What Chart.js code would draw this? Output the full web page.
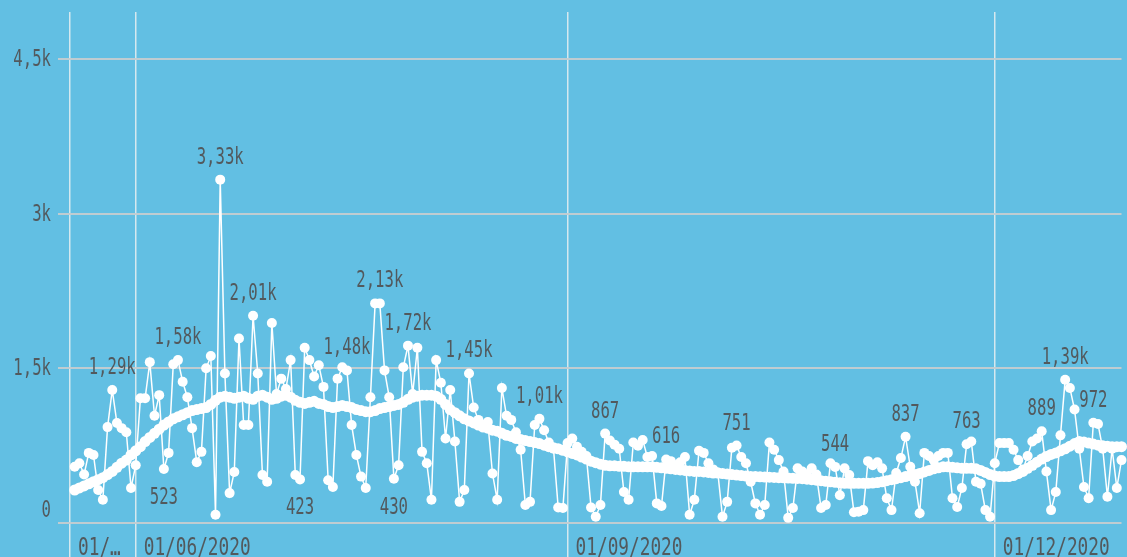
<!DOCTYPE html>
<html>
<head>
<meta charset="utf-8">
<script src="https://cdn.jsdelivr.net/npm/chart.js@4.4.1/dist/chart.umd.min.js"></script>
<style>
  html, body { margin: 0; padding: 0; background: #62bfe3; }
  #wrap { width: 1127px; height: 557px; }
</style>
</head>
<body>
<div id="wrap"><canvas id="chart" width="1127" height="557"></canvas></div>
<script>
// first category is 18/05/2020 (empty), then one value per day up to 28/12/2020
const startDate = new Date(2020, 4, 18);
const dayCount = 225;

const daily = [null,
  546, 580, 470, 680, 660, 320, 225, 930, 1290, 970,
  920, 880, 340, 560, 1210, 1210, 1560, 1040, 1240, 523,
  680, 1540, 1580, 1370, 1220, 920, 590, 690, 1500, 1620,
  80, 3330, 1450, 290, 495, 1790, 950, 950, 2010, 1450,
  465, 400, 1940, 1250, 1400, 1300, 1580, 465, 423, 1700,
  1580, 1420, 1530, 1320, 415, 350, 1400, 1510, 1480, 950,
  660, 450, 340, 1220, 2130, 2130, 1480, 1220, 430, 560,
  1510, 1720, 1250, 1700, 690, 580, 225, 1580, 1360, 820,
  1290, 790, 205, 320, 1450, 1120, 1000, 950, 980, 480,
  225, 1310, 1040, 1000, 880, 710, 175, 205, 950, 1010,
  900, 780, 720, 150, 145, 775, 820, 740, 690, 650,
  150, 60, 175, 867, 800, 760, 720, 300, 225, 780,
  750, 805, 640, 650, 190, 165, 616, 600, 560, 590,
  640, 80, 225, 700, 680, 580, 520, 490, 60, 205,
  730, 751, 640, 580, 400, 190, 80, 175, 780, 710,
  610, 500, 50, 145, 530, 500, 470, 530, 470, 145,
  175, 580, 544, 270, 530, 465, 105, 110, 125, 600,
  560, 590, 530, 240, 125, 485, 630, 837, 545, 400,
  95, 680, 650, 610, 650, 680, 680, 240, 155, 340,
  763, 790, 400, 380, 125, 60, 580, 775, 775, 775,
  710, 610, 520, 650, 790, 820, 889, 500, 125, 300,
  850, 1390, 1310, 1100, 720, 350, 240, 972, 960, 720,
  255, 720, 340, 610
];

const average = [null,
  320, 340, 360, 380, 400, 420, 440, 470, 500, 540,
  580, 610, 660, 700, 740, 790, 830, 870, 910, 950,
  980, 1010, 1030, 1050, 1070, 1090, 1100, 1110, 1120, 1150,
  1190, 1220, 1230, 1220, 1210, 1220, 1230, 1210, 1200, 1230,
  1240, 1220, 1200, 1210, 1230, 1240, 1220, 1190, 1170, 1160,
  1170, 1180, 1160, 1150, 1130, 1120, 1130, 1140, 1130, 1120,
  1100, 1090, 1080, 1080, 1090, 1110, 1120, 1130, 1140, 1150,
  1170, 1200, 1220, 1230, 1240, 1240, 1240, 1230, 1200, 1150,
  1100, 1070, 1040, 1010, 990, 970, 950, 930, 920, 900,
  890, 870, 850, 840, 820, 810, 800, 790, 780, 770,
  755, 740, 730, 720, 705, 690, 675, 660, 640, 620,
  600, 585, 570, 560, 555, 555, 550, 550, 545, 545,
  545, 545, 545, 545, 540, 535, 530, 525, 520, 515,
  510, 505, 500, 500, 495, 490, 485, 485, 480, 475,
  470, 465, 460, 455, 450, 450, 448, 446, 444, 442,
  440, 438, 436, 434, 432, 430, 425, 420, 415, 410,
  405, 400, 395, 390, 385, 385, 385, 385, 385, 385,
  388, 392, 400, 410, 420, 430, 440, 450, 460, 470,
  480, 495, 510, 525, 535, 545, 545, 540, 535, 530,
  530, 530, 525, 510, 490, 470, 455, 450, 450, 450,
  460, 480, 500, 530, 560, 590, 620, 645, 665, 680,
  700, 720, 745, 770, 790, 785, 775, 765, 755, 750,
  745, 740, 740, 740
];

// points of the daily series that carry a value label (index into daily)
const labelAbove = [9, 23, 32, 39, 59, 66, 72, 85, 100, 114, 127, 142, 163, 178, 191, 207, 212, 218];
const labelBelow = [20, 49, 69];

// x ticks shown, by date
const xTickText = {
  '18/05/2020': '01/…',
  '01/06/2020': '01/06/2020',
  '01/09/2020': '01/09/2020',
  '01/12/2020': '01/12/2020'
};
const yTicks = [0, 1500, 3000, 4500];

const pad2 = n => String(n).padStart(2, '0');
const dates = [];
for (let i = 0; i < dayCount; i++) {
  const d = new Date(startDate.getFullYear(), startDate.getMonth(), startDate.getDate() + i);
  dates.push(pad2(d.getDate()) + '/' + pad2(d.getMonth() + 1) + '/' + d.getFullYear());
}

const FONT = '"DejaVu Sans Mono", "Liberation Mono", monospace';
const TEXT = '#52595d';

function fmt(v) {
  if (v >= 1000) return (v / 1000).toFixed(2).replace('.', ',') + 'k';
  return String(v);
}
function yFmt(v) {
  return v === 0 ? '0' : String(v / 1000).replace('.', ',') + 'k';
}

// the chart's font is a narrow one: draw text squeezed horizontally
function narrowText(c, text, x, y, align, sx) {
  c.save();
  c.translate(x, y);
  c.scale(sx, 1);
  c.textAlign = align;
  c.textBaseline = 'alphabetic';
  c.fillText(text, 0, 0);
  c.restore();
}

const background = {
  id: 'background',
  beforeDraw(chart) {
    const c = chart.ctx;
    c.save();
    c.fillStyle = '#62bfe3';
    c.fillRect(0, 0, chart.width, chart.height);
    c.restore();
  }
};

const texts = {
  id: 'texts',
  afterDatasetsDraw(chart) {
    const c = chart.ctx;
    const xs = chart.scales.x;
    const ys = chart.scales.y;
    c.save();
    c.fillStyle = TEXT;

    c.font = '24px ' + FONT;
    xs.ticks.forEach((t, i) => {
      narrowText(c, xTickText[dates[t.value]], xs.getPixelForTick(i) + 8, 555, 'left', 0.74);
    });

    c.font = '23px ' + FONT;
    yTicks.forEach(v => {
      const y = v === 0 ? ys.getPixelForValue(v) - 6 : ys.getPixelForValue(v) + 7;
      narrowText(c, yFmt(v), 51, y, 'right', 0.68);
    });

    const meta = chart.getDatasetMeta(0);
    labelAbove.forEach(i => {
      const p = meta.data[i];
      narrowText(c, fmt(daily[i]), p.x, p.y - 16, 'center', 0.68);
    });
    labelBelow.forEach(i => {
      const p = meta.data[i];
      narrowText(c, fmt(daily[i]), p.x, p.y + 35, 'center', 0.68);
    });
    c.restore();
  }
};

const ctx = document.getElementById('chart').getContext('2d');
new Chart(ctx, {
  type: 'line',
  data: {
    labels: dates,
    datasets: [{
      label: 'Daily',
      data: daily,
      borderColor: '#ffffff',
      borderWidth: 1.5,
      pointRadius: 5,
      pointBackgroundColor: '#ffffff',
      pointBorderWidth: 0,
      tension: 0,
      clip: false
    }, {
      label: 'Average',
      data: average,
      borderColor: '#ffffff',
      borderWidth: 4,
      pointRadius: 5.5,
      pointBackgroundColor: '#ffffff',
      pointBorderWidth: 0,
      tension: 0,
      clip: false
    }]
  },
  options: {
    responsive: false,
    animation: false,
    events: [],
    layout: { padding: { top: 12, right: 2, left: 0, bottom: 0 } },
    plugins: { legend: { display: false }, tooltip: { enabled: false } },
    scales: {
      x: {
        afterBuildTicks: scale => {
          scale.ticks = scale.ticks.filter(t => xTickText[dates[t.value]] !== undefined);
        },
        afterFit: scale => { scale.height = 34; },
        ticks: { display: false, autoSkip: false, maxRotation: 0 },
        grid: { color: 'rgba(226,236,240,0.9)', lineWidth: 1.5, tickLength: 35 },
        border: { display: false }
      },
      y: {
        min: 0,
        max: 4956,
        afterBuildTicks: scale => {
          scale.ticks = yTicks.map(v => ({ value: v }));
        },
        afterFit: scale => { scale.width = 70; },
        ticks: { display: false },
        grid: { color: 'rgba(196,204,208,0.95)', lineWidth: 2, tickLength: 12 },
        border: { display: false }
      }
    }
  },
  plugins: [background, texts]
});
</script>
</body>
</html>
